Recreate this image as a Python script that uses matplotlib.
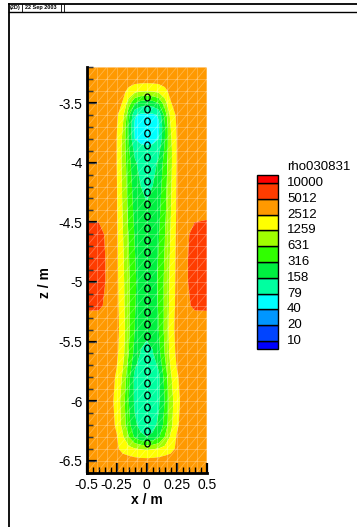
import numpy as np
import matplotlib
matplotlib.use('Agg')
import matplotlib.pyplot as plt
from matplotlib.lines import Line2D
from matplotlib.collections import LineCollection
from matplotlib.path import Path
from matplotlib.patches import Rectangle

plt.rcParams['font.family'] = ['Liberation Sans', 'DejaVu Sans']
plt.rcParams['axes.unicode_minus'] = False

# ---------------- data ----------------
# half-profile x positions (m); the section is mirrored about the borehole axis x = 0
x_half = [0.0, 0.05, 0.1, 0.15, 0.2, 0.25, 0.3, 0.4, 0.5]
z_rows = [-3.2, -3.3, -3.4, -3.5, -3.6, -3.7, -3.8, -3.9, -4.0, -4.2, -4.4, -4.5,
          -4.6, -4.8, -5.0, -5.2, -5.3, -5.4, -5.6, -5.8, -6.0, -6.2, -6.3, -6.4,
          -6.5, -6.6]
# log10 of resistivity (ohm m)
log_rho_half = [
    [3.55, 3.55, 3.55, 3.55, 3.55, 3.55, 3.55, 3.55, 3.55],  # -3.2
    [3.55, 3.55, 3.55, 3.55, 3.55, 3.55, 3.55, 3.55, 3.55],  # -3.3
    [3.10, 3.12, 3.18, 3.32, 3.48, 3.55, 3.55, 3.55, 3.55],  # -3.4
    [2.30, 2.36, 2.52, 2.95, 3.38, 3.52, 3.55, 3.55, 3.55],  # -3.5
    [1.84, 1.84, 1.93, 2.60, 3.20, 3.45, 3.55, 3.55, 3.55],  # -3.6
    [1.75, 1.76, 1.85, 2.45, 3.10, 3.42, 3.55, 3.55, 3.55],  # -3.7
    [1.80, 1.82, 1.90, 2.48, 3.05, 3.40, 3.55, 3.55, 3.55],  # -3.8
    [1.98, 2.00, 2.12, 2.55, 3.02, 3.40, 3.55, 3.55, 3.55],  # -3.9
    [2.05, 2.08, 2.25, 2.62, 3.02, 3.40, 3.55, 3.55, 3.55],  # -4.0
    [2.16, 2.20, 2.35, 2.68, 3.05, 3.42, 3.55, 3.55, 3.55],  # -4.2
    [2.22, 2.25, 2.42, 2.72, 3.08, 3.43, 3.56, 3.60, 3.62],  # -4.4
    [2.24, 2.27, 2.45, 2.75, 3.10, 3.44, 3.58, 3.70, 3.72],  # -4.5
    [2.25, 2.30, 2.48, 2.78, 3.12, 3.45, 3.60, 3.78, 3.80],  # -4.6
    [2.28, 2.33, 2.52, 2.82, 3.15, 3.46, 3.62, 3.80, 3.82],  # -4.8
    [2.30, 2.35, 2.55, 2.85, 3.18, 3.47, 3.62, 3.80, 3.82],  # -5.0
    [2.28, 2.33, 2.53, 2.85, 3.20, 3.48, 3.60, 3.75, 3.76],  # -5.2
    [2.26, 2.31, 2.51, 2.85, 3.22, 3.50, 3.57, 3.62, 3.62],  # -5.3
    [2.24, 2.29, 2.50, 2.86, 3.24, 3.50, 3.55, 3.55, 3.55],  # -5.4
    [2.15, 2.18, 2.40, 2.80, 3.20, 3.46, 3.55, 3.55, 3.55],  # -5.6
    [2.05, 2.08, 2.12, 2.60, 3.05, 3.36, 3.50, 3.55, 3.55],  # -5.8
    [2.00, 2.05, 2.15, 2.50, 2.95, 3.30, 3.48, 3.55, 3.55],  # -6.0
    [2.10, 2.12, 2.25, 2.60, 3.00, 3.35, 3.50, 3.55, 3.55],  # -6.2
    [2.20, 2.25, 2.45, 2.80, 3.15, 3.42, 3.52, 3.55, 3.55],  # -6.3
    [3.05, 3.08, 3.12, 3.20, 3.30, 3.45, 3.55, 3.55, 3.55],  # -6.4
    [3.50, 3.50, 3.52, 3.55, 3.55, 3.55, 3.55, 3.55, 3.55],  # -6.5
    [3.55, 3.55, 3.55, 3.55, 3.55, 3.55, 3.55, 3.55, 3.55],  # -6.6
]

level_labels = [10, 20, 40, 79, 158, 316, 631, 1259, 2512, 5012, 10000]
level_colors = ['#0000FF', '#0044FF', '#0096FF', '#00FFFF', '#00FFA0', '#00F040',
                '#30FF00', '#A0FF00', '#FFFF00', '#FF9900', '#FF3C00', '#FF0000']
legend_title = 'rho030831'

electrode_x = 0.0
electrode_z = [-3.45, -3.55, -3.65, -3.75, -3.85, -3.95, -4.05, -4.15, -4.25, -4.35,
               -4.45, -4.55, -4.65, -4.75, -4.85, -4.95, -5.05, -5.15, -5.25, -5.35,
               -5.45, -5.55, -5.65, -5.75, -5.85, -5.95, -6.05, -6.15, -6.25, -6.35]

xticks = [-0.5, -0.25, 0, 0.25, 0.5]
xtick_labels = ['-0.5', '-0.25', '0', '0.25', '0.5']
yticks = [-6.5, -6, -5.5, -5, -4.5, -4, -3.5]
ytick_labels = ['-6.5', '-6', '-5.5', '-5', '-4.5', '-4', '-3.5']

# ---------------- figure ----------------
W, H = 357, 527
fig = plt.figure(figsize=(W / 100, H / 100), dpi=100)
fig.patch.set_facecolor('white')

def fx(px):
    return px / W

def fy(py):
    return 1 - py / H

ax_l, ax_r, ax_t, ax_b = 86.7, 206.7, 67.3, 472.7
ax = fig.add_axes([fx(ax_l), fy(ax_b), (ax_r - ax_l) / W, (ax_b - ax_t) / H])

xh = np.array(x_half)
X = np.concatenate([-xh[::-1][:-1], xh])
V_half = np.array(log_rho_half)
V = np.hstack([V_half[:, ::-1][:, :-1], V_half])
Z = np.array(z_rows)

levels = np.log10(level_labels)
ax.contourf(X, Z, V, levels=levels, colors=level_colors, extend='both',
            antialiased=True)

# light triangular mesh overlay
mx = np.linspace(-0.5, 0.5, 13)
mz = np.arange(-6.6, -3.15, 0.1)
segs = []
for xv in mx:
    segs.append([(xv, mz[0]), (xv, mz[-1])])
for zv in mz:
    segs.append([(mx[0], zv), (mx[-1], zv)])
for i in range(len(mx) - 1):
    for j in range(len(mz) - 1):
        segs.append([(mx[i], mz[j]), (mx[i + 1], mz[j + 1])])
ax.add_collection(LineCollection(segs, colors='white', linewidths=0.6, alpha=0.28,
                                 zorder=2))

# electrodes
circ = Path.unit_circle()
ell = Path(circ.vertices * np.array([0.78, 1.0]), circ.codes)
ax.plot([electrode_x] * len(electrode_z), electrode_z, linestyle='none',
        marker=ell, markersize=5.0, markerfacecolor='none',
        markeredgecolor='black', markeredgewidth=0.9, zorder=3)

ax.set_xlim(-0.5, 0.5)
ax.set_ylim(-6.6, -3.2)
for s in ['top', 'right']:
    ax.spines[s].set_visible(False)
for s in ['left', 'bottom']:
    ax.spines[s].set_linewidth(2)
    ax.spines[s].set_zorder(5)
ax.set_xticks(xticks)
ax.set_xticklabels(xtick_labels)
ax.set_yticks(yticks)
ax.set_yticklabels(ytick_labels)
ax.set_xticks(np.arange(-0.5, 0.501, 0.05), minor=True)
ax.set_yticks(np.arange(-6.6, -3.19, 0.1), minor=True)
ax.tick_params(which='major', direction='in', length=7.5, width=1.6, labelsize=10,
               top=False, right=False, zorder=6)
ax.tick_params(which='minor', direction='in', length=4.2, width=1.0,
               top=False, right=False)
ax.tick_params(axis='x', which='major', pad=4)
ax.tick_params(axis='y', which='major', pad=3)

fig.text(fx(146.7), fy(500.5), 'x / m', ha='center', va='center', fontsize=10,
         fontweight='bold')
fig.text(fx(45), fy(283), 'z / m', ha='center', va='center', fontsize=10,
         fontweight='bold', rotation=90)

# legend
sw_l, sw_r, sw_t, sw_b = 257, 278, 175, 349
lax = fig.add_axes([fx(sw_l), fy(sw_b), (sw_r - sw_l) / W, (sw_b - sw_t) / H])
n = len(level_labels)
lax.set_xlim(0, 1)
lax.set_ylim(0, n)
lax.axis('off')
for i, c in enumerate(level_colors):
    b = max(i - 0.5, 0)
    t = min(i + 0.5, n)
    lax.add_patch(Rectangle((0, b), 1, t - b, facecolor=c, edgecolor='black',
                            linewidth=1.0, clip_on=False))
lab_x = (287 - sw_l) / (sw_r - sw_l)
for k, lab in enumerate(level_labels):
    lax.text(lab_x, k + 0.5, str(lab), ha='left', va='center', fontsize=9.5,
             clip_on=False)
lax.text(lab_x, n + 0.5, legend_title, ha='left', va='center', fontsize=9.5,
         clip_on=False)

# frame / header
fig.add_artist(Line2D([fx(9.3), 1], [fy(4.3), fy(4.3)], color='black', lw=1.3))
fig.add_artist(Line2D([fx(9.3), 1], [fy(11.7), fy(11.7)], color='black', lw=1.0))
fig.add_artist(Line2D([fx(9.3), fx(9.3)], [fy(4.3), 0], color='black', lw=1.3))
for sx in [21.7, 61, 64.3]:
    fig.add_artist(Line2D([fx(sx), fx(sx)], [fy(4.3), fy(11.7)], color='black',
                          lw=0.6))
fig.text(fx(15.5), fy(8), '(2D)', ha='center', va='center', fontsize=4,
         fontweight='bold')
fig.text(fx(40.5), fy(8), '22 Sep 2003', ha='center', va='center', fontsize=4,
         fontweight='bold')

fig.savefig('out.png', dpi=100)
